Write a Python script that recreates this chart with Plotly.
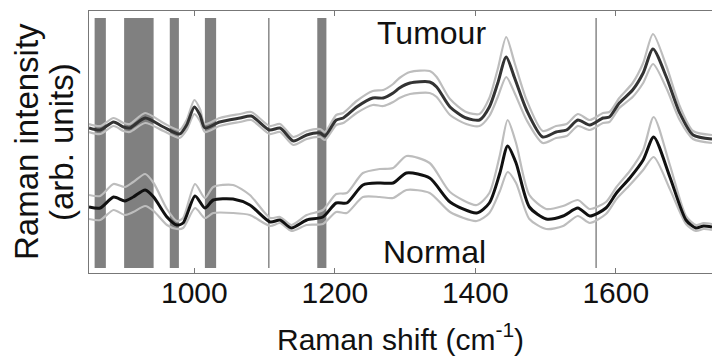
import plotly.graph_objects as go
import numpy as np

# ---- data ----
tumour_x = [850,866,885,899,908,930,956,979,989,1000,1008,1015,1036,1065,1081,1107,1122,1141,1160,1179,
            1186,1202,1212,1231,1254,1269,1283,1292,1307,1335,1345,1364,1387,1406,1420,1432,1444,1456,1473,1496,
            1515,1530,1546,1563,1582,1591,1605,1624,1639,1653,1672,1691,1710,1737]
tumour_mean = [145,143,151,146,145,155,146,139,148,166,158,145,151,155,157,143,145,132,138,140,
               137,153,155,166,175,175,180,185,190,191,186,166,155,153,166,190,216,195,163,136,
               141,143,153,148,155,156,170,183,200,224,196,160,138,134]
tumour_std = [4,4,4,4,4,5,4,4,5,7,6,4,4,4,4,4,4,4,4,4,
              4,5,5,6,7,8,9,10,11,11,10,8,6,6,9,14,20,15,10,6,
              6,6,6,5,5,5,5,7,10,15,11,7,4,4]

normal_x = [850,866,885,901,913,930,942,961,975,984,1001,1015,1027,1055,1079,1108,1122,1138,1160,1183,
            1202,1217,1240,1264,1283,1302,1335,1364,1402,1420,1435,1446,1458,1477,1501,1525,1546,1563,1586,1601,
            1620,1639,1654,1677,1700,1714,1725,1737]
normal_mean = [66,65,76,72,76,83,76,56,48,50,77,65,73,74,68,51,53,45,53,56,
               70,70,88,90,90,100,95,71,60,70,100,127,110,66,54,57,65,57,65,80,
               95,113,136,96,53,45,47,46]
normal_std = [12,12,13,14,15,16,14,8,4,5,12,10,13,14,10,4,3,3,5,7,
              9,10,12,14,15,17,15,10,8,10,18,26,20,12,10,10,8,7,6,6,
              7,10,20,12,4,3,3,3]

band_start = [858, 900, 965, 1015, 1175]
band_end = [874, 942, 978, 1031, 1188]
marker_lines = [1106, 1572]
tick_vals = [1000, 1200, 1400, 1600]

FONT = "Liberation Sans, Arial, sans-serif"
fig = go.Figure()

def add_series(x, mean, std, color):
    m = np.array(mean, float); s = np.array(std, float)
    for arr in (m + s, m - s):
        fig.add_trace(go.Scatter(x=x, y=arr, mode="lines",
                                 line=dict(color="#bdbdbd", width=2.2, shape="spline", smoothing=0.7),
                                 hoverinfo="skip", showlegend=False))
    fig.add_trace(go.Scatter(x=x, y=m, mode="lines",
                             line=dict(color=color, width=3, shape="spline", smoothing=0.7),
                             showlegend=False))

add_series(tumour_x, tumour_mean, tumour_std, "#333333")
add_series(normal_x, normal_mean, normal_std, "#111111")

shapes = []
for a, b in zip(band_start, band_end):
    shapes.append(dict(type="rect", xref="x", yref="y", x0=a, x1=b, y0=5, y1=255,
                       fillcolor="#808080", line=dict(width=0), layer="below"))
for v in marker_lines:
    shapes.append(dict(type="line", xref="x", yref="y", x0=v, x1=v, y0=5, y1=255,
                       line=dict(color="#888888", width=1.5), layer="below"))

fig.update_layout(
    width=712, height=358,
    margin=dict(l=89, r=0, t=11, b=85),
    paper_bgcolor="white", plot_bgcolor="white",
    font=dict(family=FONT, size=30, color="#111111"),
    shapes=shapes,
    xaxis=dict(range=[850, 1737], tickvals=tick_vals, ticks="inside", ticklen=5,
               tickcolor="#777777", showline=True, linecolor="#777777", linewidth=1,
               mirror="ticks", showgrid=False, zeroline=False,
               tickfont=dict(size=30), ticklabelstandoff=-7),
    yaxis=dict(range=[0, 262], showticklabels=False, ticks="", showline=True,
               linecolor="#777777", linewidth=1, mirror=False, showgrid=False, zeroline=False),
    annotations=[
        dict(text="Raman shift (cm<sup>-1</sup>)", x=0.5, y=(273 - 337) / 262,
             xref="paper", yref="paper", showarrow=False, xanchor="center", yanchor="middle",
             font=dict(size=30, family=FONT, color="#111111")),
        dict(text="Tumour", x=1338, y=240, xref="x", yref="y", showarrow=False,
             font=dict(size=32, family=FONT, color="#111111")),
        dict(text="Normal", x=1342, y=21, xref="x", yref="y", showarrow=False,
             font=dict(size=32, family=FONT, color="#111111")),
        dict(text="Raman intensity", x=-0.1011, y=0.5, xref="paper", yref="paper",
             textangle=-90, showarrow=False, xanchor="center", yanchor="middle",
             font=dict(size=33, family=FONT, color="#111111")),
        dict(text="(arb. units)", x=-0.0449, y=0.5, xref="paper", yref="paper",
             textangle=-90, showarrow=False, xanchor="center", yanchor="middle",
             font=dict(size=33, family=FONT, color="#111111")),
    ],
)

fig.write_html("out.html", config={"displayModeBar": False},
               post_script="document.body.style.margin='0px';")
